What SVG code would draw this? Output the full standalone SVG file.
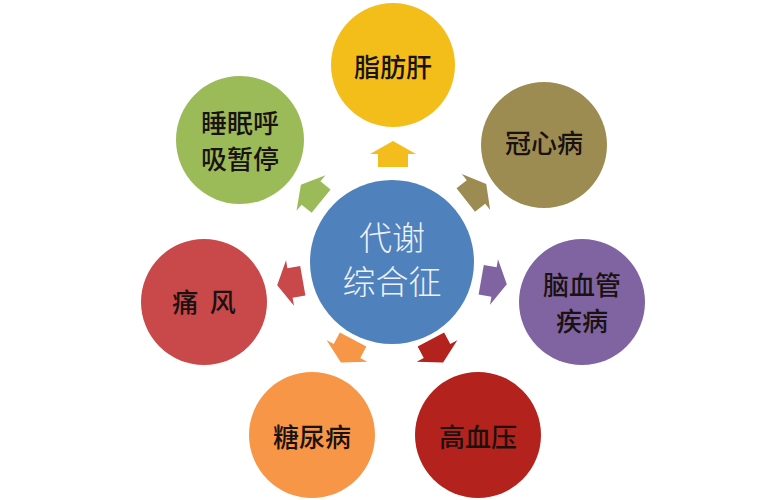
<svg xmlns="http://www.w3.org/2000/svg" width="784" height="500" viewBox="0 0 784 500">
<defs>
<path id="arr" d="M13,0 L0,-23 L0,-15 L-13,-15 L-13,15 L0,15 L0,23 Z"/>
</defs>
<style>
.lbl{font-family:"Noto Sans CJK SC","Noto Sans CJK JP",sans-serif;font-size:26px;font-weight:500;fill:#1a1210;text-anchor:middle;dominant-baseline:central}
.ctr{font-family:"Noto Sans CJK SC","Noto Sans CJK JP",sans-serif;font-size:33px;font-weight:300;fill:#eef1f8;text-anchor:middle;dominant-baseline:central}
</style>
<rect width="784" height="500" fill="#ffffff"/>
<g id="connectors">
<use href="#arr" fill="#f2bd1d" transform="translate(393,154) rotate(-90)"/>
<use href="#arr" fill="#9c8c52" transform="translate(476,192) rotate(-38)"/>
<use href="#arr" fill="#9bbb59" transform="translate(311,193) rotate(-141)"/>
<use href="#arr" fill="#c9484a" transform="translate(290,283) rotate(170)"/>
<use href="#arr" fill="#8064a2" transform="translate(494,282) rotate(10)"/>
<use href="#arr" fill="#f79646" transform="translate(347,351) rotate(118)"/>
<use href="#arr" fill="#b3221c" transform="translate(437,351) rotate(62)"/>
</g>
<g id="center">
<circle cx="392" cy="262" r="82" fill="#4f81bd"/>
<text class="ctr" x="392" y="236">代谢</text>
<text class="ctr" x="392" y="280">综合征</text>
</g>
<g id="fatty-liver">
<circle cx="393" cy="65" r="62" fill="#f4be1a"/>
<text class="lbl" x="393" y="65">脂肪肝</text>
</g>
<g id="coronary">
<circle cx="544" cy="145" r="63" fill="#9c8c52"/>
<text class="lbl" x="544" y="141">冠心病</text>
</g>
<g id="cerebrovascular">
<circle cx="582" cy="302" r="63" fill="#8064a2"/>
<text class="lbl" x="582" y="283">脑血管</text>
<text class="lbl" x="582" y="319">疾病</text>
</g>
<g id="hypertension">
<circle cx="478" cy="435" r="63" fill="#b3221c"/>
<text class="lbl" x="478" y="435">高血压</text>
</g>
<g id="diabetes">
<circle cx="312" cy="435" r="63" fill="#f79646"/>
<text class="lbl" x="312" y="435">糖尿病</text>
</g>
<g id="gout">
<circle cx="204" cy="302" r="63" fill="#c9484a"/>
<text class="lbl" x="204" y="300" xml:space="preserve">痛  风</text>
</g>
<g id="sleep-apnea">
<circle cx="240" cy="140" r="64" fill="#9bbb59"/>
<text class="lbl" x="240" y="121">睡眠呼</text>
<text class="lbl" x="240" y="157">吸暂停</text>
</g>
</svg>
